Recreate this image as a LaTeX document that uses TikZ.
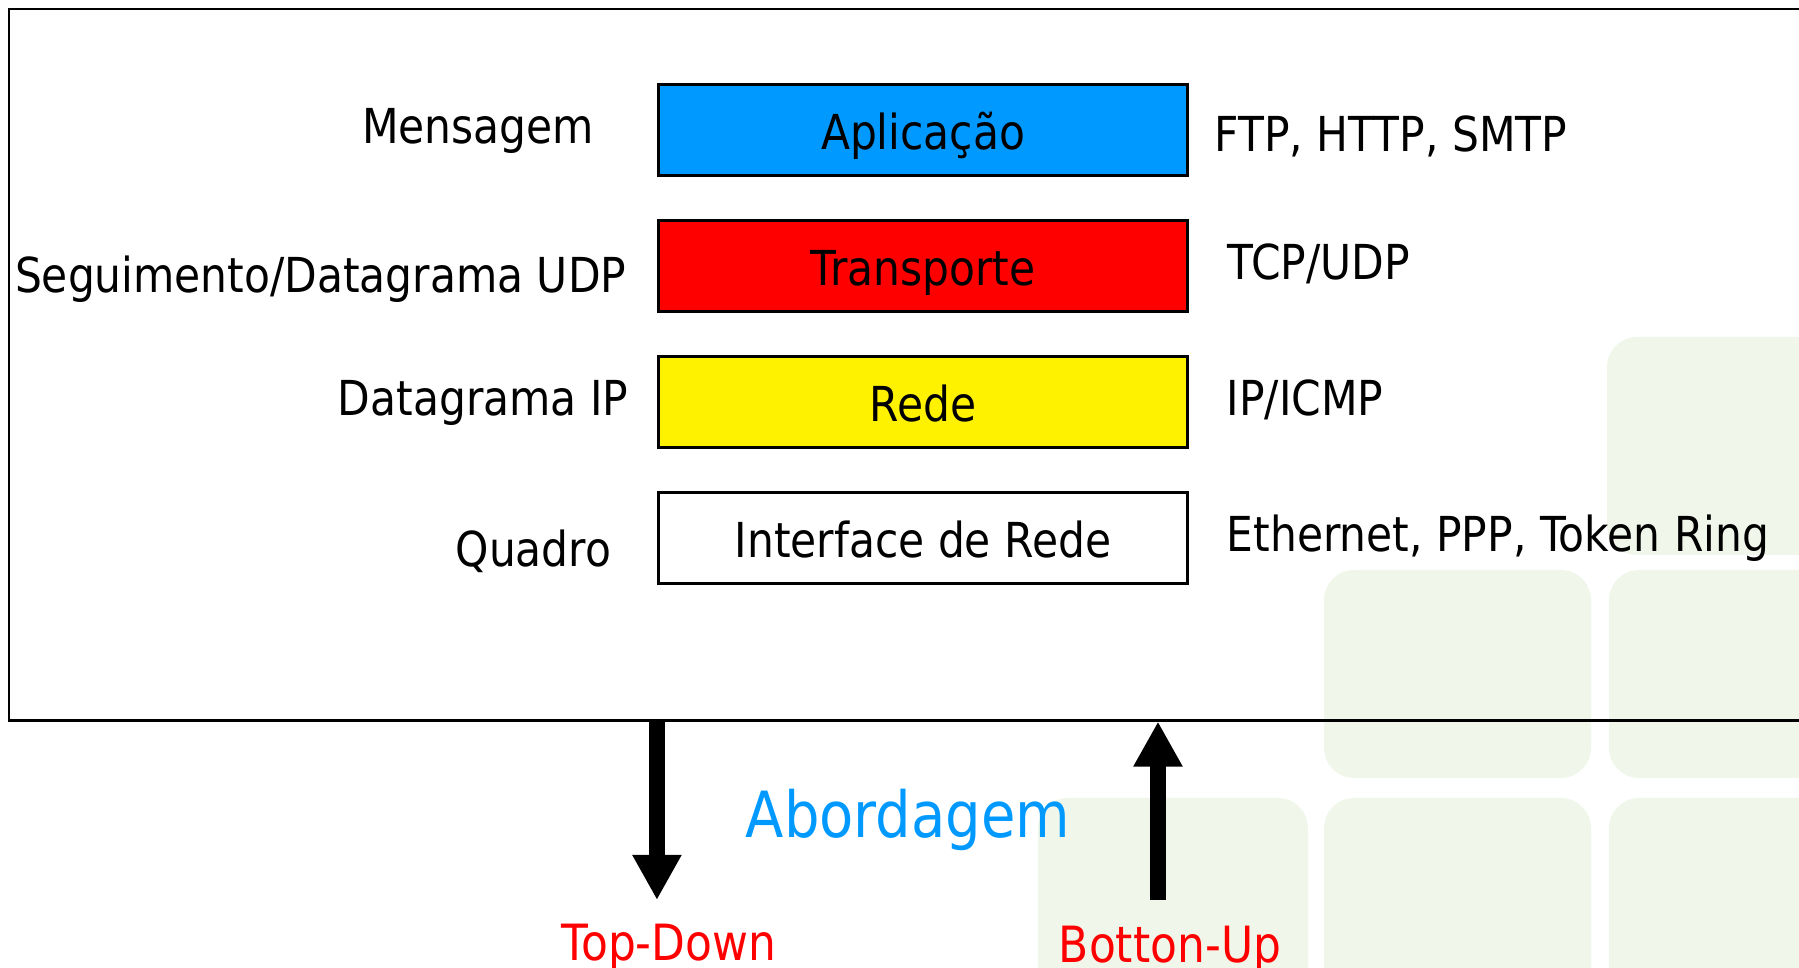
\documentclass[tikz,border=0pt]{standalone}
\usepackage{fontspec}
\setmainfont{DejaVu Sans}[FakeStretch=0.88]
\usepackage{xcolor}
\usetikzlibrary{arrows.meta, positioning}
\definecolor{appblue}{HTML}{0099FF}
\definecolor{tilegreen}{HTML}{F0F7EA}
\tikzset{
    layer/.style={
        rectangle,
        draw=black,
        line width=0.8pt,
        minimum width=5.29cm,
        minimum height=0.91cm,
        inner sep=0pt,
        text height=0.4cm,
        text depth=0cm,
        font=\fontsize{13.7pt}{16pt}\selectfont
    },
    sidelabel/.style={
        inner sep=0pt,
        text height=0.28cm,
        text depth=0cm,
        font=\fontsize{13.7pt}{16pt}\selectfont
    },
    tile/.style={
        fill=tilegreen,
        draw=none,
        rounded corners=0.3cm
    },
    frame/.style={
        rectangle,
        draw=black,
        line width=0.6pt,
        inner sep=0pt,
        anchor=north west
    },
    bigarrow/.style={
        draw=black,
        line width=0.16cm,
        -{Triangle[width=0.46cm,length=0.45cm]}
    },
    approach/.style={
        inner sep=0pt,
        text=appblue,
        font=\fontsize{18.1pt}{22pt}\selectfont
    },
    direction/.style={
        inner sep=0pt,
        text=red,
        text height=0.35cm,
        text depth=0cm,
        font=\fontsize{14.2pt}{17pt}\selectfont
    }
}

\begin{document}
\begin{tikzpicture}[x=0.01cm, y=-0.01cm]
\useasboundingbox (0,0) rectangle (1799,968);

% Background tiles
\fill[tile] (1607,337) rectangle (1880,555);
\fill[tile] (1324,570) rectangle (1591,778);
\fill[tile] (1609,570) rectangle (1880,778);
\fill[tile] (1038,798) rectangle (1308,1010);
\fill[tile] (1324,798) rectangle (1591,1010);
\fill[tile] (1609,798) rectangle (1880,1010);

% Outer frame
\node[frame, minimum width=18.6cm, minimum height=7.11cm] (frame) at (8,8) {};

% Layer stack
\node[layer, fill=appblue] (app) at (923,130) {Aplicação};
\node[layer, fill=red, below=0.42cm of app] (transp) {Transporte};
\node[layer, fill=yellow, below=0.42cm of transp] (net) {Rede};
\node[layer, fill=white, below=0.42cm of net] (iface) {Interface de Rede};

% Data units
\node[sidelabel, left=0.62cm of app] (msg) {Mensagem};
\node[sidelabel, left=0.30cm of transp, yshift=-0.13cm] (seg) {Seguimento/Datagrama UDP};
\node[sidelabel, left=0.28cm of net] (dgram) {Datagrama IP};
\node[sidelabel, left=0.45cm of iface, yshift=-0.15cm] (frm) {Quadro};

% Protocols
\node[sidelabel, right=0.25cm of app, yshift=-0.08cm] (appproto) {FTP, HTTP, SMTP};
\node[sidelabel, right=0.38cm of transp] (transproto) {TCP/UDP};
\node[sidelabel, right=0.37cm of net] (netproto) {IP/ICMP};
\node[sidelabel, right=0.37cm of iface] (ifaceproto) {Ethernet, PPP, Token Ring};

% Approach
\node[approach, anchor=base west] (abord) at (745,838) {Abordagem};
\node[direction, anchor=north] (topdown) at (669,925) {Top-Down};
\node[direction, anchor=north] (bottomup) at (1170,927) {Botton-Up};

\coordinate (tdtip) at ([yshift=0.25cm]topdown.north);
\coordinate (bufoot) at ([xshift=-0.12cm, yshift=0.27cm]bottomup.north);

\draw[bigarrow] (frame.south -| app.west) -- (app.west |- tdtip);
\draw[bigarrow] (bufoot) -- (bufoot |- frame.south);

\end{tikzpicture}
\end{document}
